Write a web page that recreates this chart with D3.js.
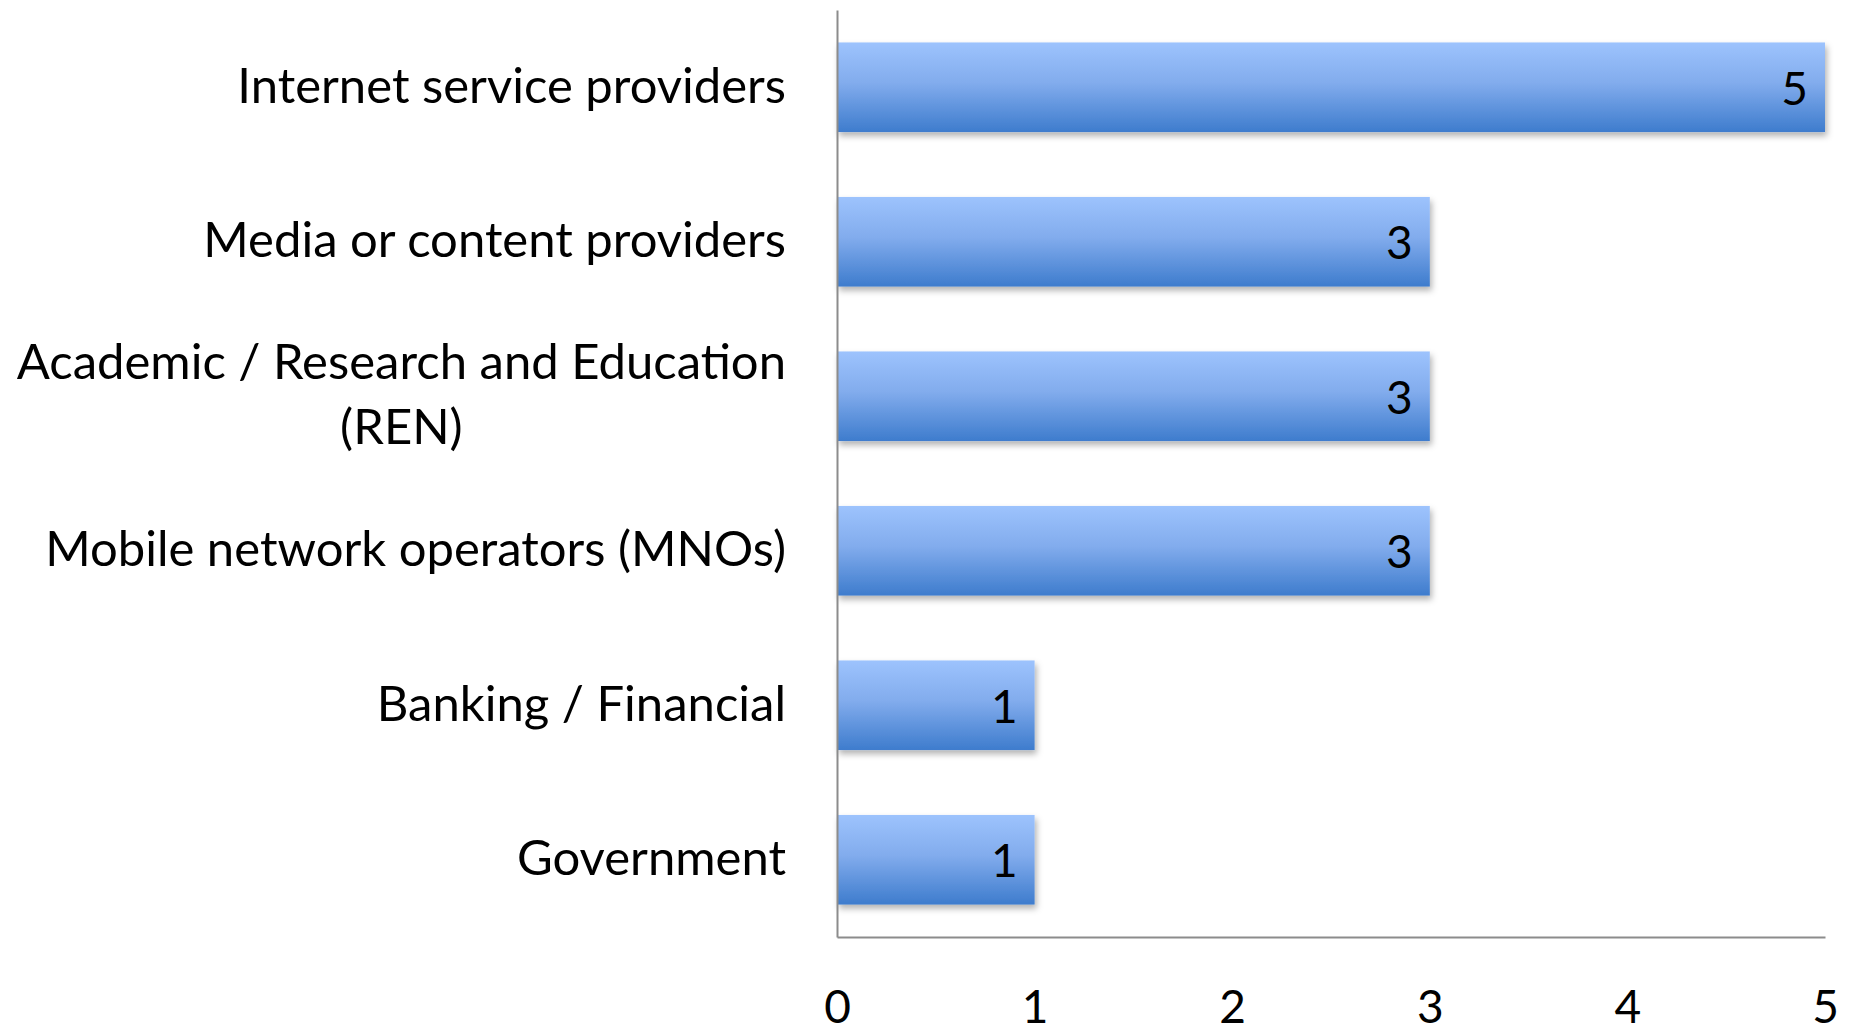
<!DOCTYPE html>
<html>
<head>
<meta charset="utf-8">
<title>Sectors</title>
<script src="https://d3js.org/d3.v7.min.js"></script>
<style>
  body { margin: 0; background: #fff; overflow: hidden; }
  svg text { font-family: Lato, Carlito, Calibri, sans-serif; fill: #000; }
</style>
</head>
<body>
<svg id="chart"></svg>
<script>
// data
var categories = ["Internet service providers", "Media or content providers",
  "Academic / Research and Education (REN)", "Mobile network operators (MNOs)",
  "Banking / Financial", "Government"];
var values = [5, 3, 3, 3, 1, 1];
var xTicks = [0, 1, 2, 3, 4, 5];

var W = 1852, H = 1027;
var plotLeft = 837, plotRight = 1825, plotTop = 10, plotBottom = 937;
var labelSize = 49;

var svg = d3.select("#chart").attr("width", W).attr("height", H);

var defs = svg.append("defs");
var grad = defs.append("linearGradient").attr("id", "barGrad")
  .attr("x1", 0).attr("y1", 0).attr("x2", 0).attr("y2", 1);
grad.append("stop").attr("offset", "0%").attr("stop-color", "#9dc3fd");
grad.append("stop").attr("offset", "45%").attr("stop-color", "#82aced");
grad.append("stop").attr("offset", "100%").attr("stop-color", "#3e7ccd");

var shadow = defs.append("filter").attr("id", "shadow")
  .attr("x", "-5%").attr("y", "-10%").attr("width", "115%").attr("height", "130%");
shadow.append("feDropShadow").attr("dx", 2).attr("dy", 4).attr("stdDeviation", 3)
  .attr("flood-color", "#000").attr("flood-opacity", 0.3);

var x = d3.scaleLinear().domain([0, 5]).range([plotLeft, plotRight]);
var y = d3.scaleBand().domain(categories).range([plotTop, plotBottom]).paddingInner(0.42).paddingOuter(0.21);

// bars
svg.selectAll(".bar")
  .data(categories)
  .enter().append("rect")
  .attr("class", "bar")
  .attr("x", x(0))
  .attr("y", function(d) { return y(d); })
  .attr("width", function(d, i) { return x(values[i]) - x(0); })
  .attr("height", y.bandwidth())
  .attr("fill", "url(#barGrad)")
  .attr("filter", "url(#shadow)");

// value labels
svg.selectAll(".val")
  .data(categories)
  .enter().append("text")
  .attr("class", "val")
  .attr("x", function(d, i) { return x(values[i]) - 17; })
  .attr("y", function(d) { return y(d) + y.bandwidth() / 2; })
  .attr("dy", "0.38em")
  .attr("text-anchor", "end")
  .style("font-size", "46px")
  .text(function(d, i) { return values[i]; });

// x axis
var xAxis = svg.append("g")
  .attr("transform", "translate(0," + plotBottom + ")")
  .call(d3.axisBottom(x).tickValues(xTicks).tickSize(0).tickPadding(53).tickFormat(d3.format("d")));
xAxis.select(".domain").attr("stroke", "#8c8c8c").attr("stroke-width", 2);
xAxis.selectAll("text").style("font-size", "46px").attr("fill", "#000");

// y axis
var yAxis = svg.append("g")
  .attr("transform", "translate(" + plotLeft + ",0)")
  .call(d3.axisLeft(y).tickSize(0).tickPadding(51));
yAxis.select(".domain").attr("stroke", "#8c8c8c").attr("stroke-width", 2);
yAxis.selectAll("text").style("font-size", labelSize + "px").attr("fill", "#000")
  .call(wrap, 800);

function wrap(texts, width) {
  texts.each(function() {
    var t = d3.select(this);
    var words = t.text().split(/\s+/);
    var lines = [], line = [];
    t.text(null);
    var probe = t.append("tspan");
    words.forEach(function(w) {
      line.push(w);
      probe.text(line.join(" "));
      if (probe.node().getComputedTextLength() > width && line.length > 1) {
        line.pop();
        lines.push(line.join(" "));
        line = [w];
      }
    });
    lines.push(line.join(" "));
    probe.remove();
    if (lines.length === 1) { t.text(lines[0]); return; }
    var xx = +t.attr("x");
    var lh = 65;
    // measure widest line so lines can be centred within a right-aligned block
    var widths = lines.map(function(l) {
      var s = t.append("tspan").text(l);
      var w = s.node().getComputedTextLength();
      s.remove();
      return w;
    });
    var maxW = d3.max(widths);
    lines.forEach(function(l, i) {
      t.append("tspan")
        .attr("x", xx - (maxW - widths[i]) / 2)
        .attr("dy", i === 0 ? (0.32 - (lines.length - 1) * 0.5 * lh / labelSize) + "em" : lh + "px")
        .text(l);
    });
  });
}
</script>
</body>
</html>
